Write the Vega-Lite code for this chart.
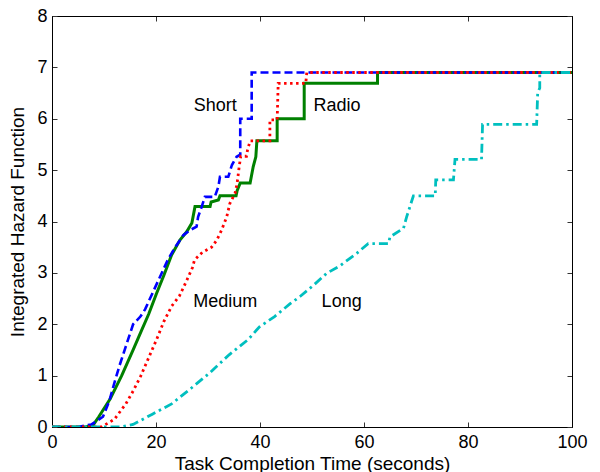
{
  "$schema": "https://vega.github.io/schema/vega-lite/v6.json",
  "width": 520,
  "height": 411,
  "autosize": "none",
  "padding": {"left": 52, "top": 16, "right": 28, "bottom": 45},
  "background": "white",
  "config": {
    "font": "Liberation Sans",
    "view": {"stroke": "black", "strokeWidth": 1},
    "axis": {
      "grid": false,
      "domainColor": "black",
      "domainWidth": 1,
      "tickColor": "#333333",
      "tickSize": -5,
      "tickWidth": 1,
      "labelFont": "Liberation Sans",
      "labelFontSize": 18,
      "labelColor": "black",
      "titleFont": "Liberation Sans",
      "titleFontSize": 19,
      "titleFontWeight": "normal",
      "titleColor": "black"
    }
  },
  "datasets": {
    "curves": [
      {"series": "Short", "i": 0, "t": 0, "h": 0},
      {"series": "Short", "i": 1, "t": 5, "h": 0},
      {"series": "Short", "i": 2, "t": 7.6, "h": 0.05},
      {"series": "Short", "i": 3, "t": 9.8, "h": 0.2},
      {"series": "Short", "i": 4, "t": 11, "h": 0.5},
      {"series": "Short", "i": 5, "t": 12, "h": 0.86},
      {"series": "Short", "i": 6, "t": 13, "h": 1.2},
      {"series": "Short", "i": 7, "t": 14.2, "h": 1.57},
      {"series": "Short", "i": 8, "t": 15.6, "h": 2.0},
      {"series": "Short", "i": 9, "t": 17, "h": 2.15},
      {"series": "Short", "i": 10, "t": 17.9, "h": 2.29},
      {"series": "Short", "i": 11, "t": 19.3, "h": 2.6},
      {"series": "Short", "i": 12, "t": 20.8, "h": 2.93},
      {"series": "Short", "i": 13, "t": 22.3, "h": 3.26},
      {"series": "Short", "i": 14, "t": 23.7, "h": 3.5},
      {"series": "Short", "i": 15, "t": 25.3, "h": 3.74},
      {"series": "Short", "i": 16, "t": 26.5, "h": 3.83},
      {"series": "Short", "i": 17, "t": 27.8, "h": 3.9},
      {"series": "Short", "i": 18, "t": 28.1, "h": 4.09},
      {"series": "Short", "i": 19, "t": 28.8, "h": 4.29},
      {"series": "Short", "i": 20, "t": 29.4, "h": 4.48},
      {"series": "Short", "i": 21, "t": 31.3, "h": 4.48},
      {"series": "Short", "i": 22, "t": 32.0, "h": 4.68},
      {"series": "Short", "i": 23, "t": 32.3, "h": 4.87},
      {"series": "Short", "i": 24, "t": 33.9, "h": 4.87},
      {"series": "Short", "i": 25, "t": 34.6, "h": 5.1},
      {"series": "Short", "i": 26, "t": 35.5, "h": 5.26},
      {"series": "Short", "i": 27, "t": 36.2, "h": 5.3},
      {"series": "Short", "i": 28, "t": 36.2, "h": 6.0},
      {"series": "Short", "i": 29, "t": 38.4, "h": 6.0},
      {"series": "Short", "i": 30, "t": 38.4, "h": 6.9},
      {"series": "Short", "i": 31, "t": 100, "h": 6.9},
      {"series": "Radio", "i": 0, "t": 0, "h": 0},
      {"series": "Radio", "i": 1, "t": 6.5, "h": 0},
      {"series": "Radio", "i": 2, "t": 8, "h": 0.05},
      {"series": "Radio", "i": 3, "t": 9, "h": 0.2},
      {"series": "Radio", "i": 4, "t": 11.2, "h": 0.55},
      {"series": "Radio", "i": 5, "t": 13.4, "h": 1.0},
      {"series": "Radio", "i": 6, "t": 15.6, "h": 1.5},
      {"series": "Radio", "i": 7, "t": 17.1, "h": 1.85},
      {"series": "Radio", "i": 8, "t": 18.6, "h": 2.2},
      {"series": "Radio", "i": 9, "t": 20.1, "h": 2.6},
      {"series": "Radio", "i": 10, "t": 21.5, "h": 2.95},
      {"series": "Radio", "i": 11, "t": 23.0, "h": 3.35},
      {"series": "Radio", "i": 12, "t": 24.6, "h": 3.64},
      {"series": "Radio", "i": 13, "t": 25.9, "h": 3.8},
      {"series": "Radio", "i": 14, "t": 26.9, "h": 3.97},
      {"series": "Radio", "i": 15, "t": 27.5, "h": 4.29},
      {"series": "Radio", "i": 16, "t": 30.4, "h": 4.29},
      {"series": "Radio", "i": 17, "t": 30.6, "h": 4.38},
      {"series": "Radio", "i": 18, "t": 32.0, "h": 4.42},
      {"series": "Radio", "i": 19, "t": 32.3, "h": 4.5},
      {"series": "Radio", "i": 20, "t": 35.4, "h": 4.5},
      {"series": "Radio", "i": 21, "t": 35.6, "h": 4.6},
      {"series": "Radio", "i": 22, "t": 36.2, "h": 4.75},
      {"series": "Radio", "i": 23, "t": 38.1, "h": 4.75},
      {"series": "Radio", "i": 24, "t": 38.7, "h": 5.07},
      {"series": "Radio", "i": 25, "t": 39.2, "h": 5.26},
      {"series": "Radio", "i": 26, "t": 39.4, "h": 5.57},
      {"series": "Radio", "i": 27, "t": 43.3, "h": 5.57},
      {"series": "Radio", "i": 28, "t": 43.3, "h": 6.0},
      {"series": "Radio", "i": 29, "t": 48.5, "h": 6.0},
      {"series": "Radio", "i": 30, "t": 48.5, "h": 6.69},
      {"series": "Radio", "i": 31, "t": 62.6, "h": 6.69},
      {"series": "Radio", "i": 32, "t": 62.6, "h": 6.9},
      {"series": "Radio", "i": 33, "t": 100, "h": 6.9},
      {"series": "Medium", "i": 0, "t": 0, "h": 0},
      {"series": "Medium", "i": 1, "t": 9.5, "h": 0},
      {"series": "Medium", "i": 2, "t": 12.0, "h": 0.15},
      {"series": "Medium", "i": 3, "t": 14.2, "h": 0.45},
      {"series": "Medium", "i": 4, "t": 15.6, "h": 0.7},
      {"series": "Medium", "i": 5, "t": 17.1, "h": 1.0},
      {"series": "Medium", "i": 6, "t": 18.6, "h": 1.35},
      {"series": "Medium", "i": 7, "t": 20.1, "h": 1.7},
      {"series": "Medium", "i": 8, "t": 21.5, "h": 2.05},
      {"series": "Medium", "i": 9, "t": 23.0, "h": 2.35},
      {"series": "Medium", "i": 10, "t": 24.5, "h": 2.55},
      {"series": "Medium", "i": 11, "t": 25.9, "h": 2.85},
      {"series": "Medium", "i": 12, "t": 27.0, "h": 3.1},
      {"series": "Medium", "i": 13, "t": 27.4, "h": 3.25},
      {"series": "Medium", "i": 14, "t": 28.9, "h": 3.4},
      {"series": "Medium", "i": 15, "t": 30.7, "h": 3.5},
      {"series": "Medium", "i": 16, "t": 31.7, "h": 3.64},
      {"series": "Medium", "i": 17, "t": 32.6, "h": 3.83},
      {"series": "Medium", "i": 18, "t": 33.6, "h": 4.09},
      {"series": "Medium", "i": 19, "t": 34.2, "h": 4.35},
      {"series": "Medium", "i": 20, "t": 35.2, "h": 4.55},
      {"series": "Medium", "i": 21, "t": 35.6, "h": 4.74},
      {"series": "Medium", "i": 22, "t": 36.0, "h": 5.07},
      {"series": "Medium", "i": 23, "t": 36.3, "h": 5.27},
      {"series": "Medium", "i": 24, "t": 37.4, "h": 5.27},
      {"series": "Medium", "i": 25, "t": 37.6, "h": 5.39},
      {"series": "Medium", "i": 26, "t": 38.1, "h": 5.57},
      {"series": "Medium", "i": 27, "t": 41.9, "h": 5.57},
      {"series": "Medium", "i": 28, "t": 41.9, "h": 5.98},
      {"series": "Medium", "i": 29, "t": 43.3, "h": 5.98},
      {"series": "Medium", "i": 30, "t": 43.5, "h": 6.69},
      {"series": "Medium", "i": 31, "t": 48.8, "h": 6.69},
      {"series": "Medium", "i": 32, "t": 49.0, "h": 6.9},
      {"series": "Medium", "i": 33, "t": 100, "h": 6.9},
      {"series": "Long", "i": 0, "t": 0, "h": 0},
      {"series": "Long", "i": 1, "t": 13, "h": 0},
      {"series": "Long", "i": 2, "t": 15.6, "h": 0.05},
      {"series": "Long", "i": 3, "t": 19.3, "h": 0.25},
      {"series": "Long", "i": 4, "t": 23.0, "h": 0.45},
      {"series": "Long", "i": 5, "t": 26.7, "h": 0.75},
      {"series": "Long", "i": 6, "t": 30.3, "h": 1.05},
      {"series": "Long", "i": 7, "t": 34.0, "h": 1.4},
      {"series": "Long", "i": 8, "t": 37.7, "h": 1.7},
      {"series": "Long", "i": 9, "t": 39.9, "h": 1.95},
      {"series": "Long", "i": 10, "t": 42.8, "h": 2.15},
      {"series": "Long", "i": 11, "t": 45.8, "h": 2.4},
      {"series": "Long", "i": 12, "t": 47.7, "h": 2.54},
      {"series": "Long", "i": 13, "t": 50.3, "h": 2.76},
      {"series": "Long", "i": 14, "t": 52.8, "h": 2.99},
      {"series": "Long", "i": 15, "t": 55.4, "h": 3.14},
      {"series": "Long", "i": 16, "t": 58.6, "h": 3.38},
      {"series": "Long", "i": 17, "t": 60.8, "h": 3.57},
      {"series": "Long", "i": 18, "t": 64.7, "h": 3.57},
      {"series": "Long", "i": 19, "t": 65.0, "h": 3.7},
      {"series": "Long", "i": 20, "t": 67.6, "h": 3.87},
      {"series": "Long", "i": 21, "t": 68.2, "h": 4.09},
      {"series": "Long", "i": 22, "t": 69.5, "h": 4.5},
      {"series": "Long", "i": 23, "t": 73.7, "h": 4.5},
      {"series": "Long", "i": 24, "t": 73.8, "h": 4.81},
      {"series": "Long", "i": 25, "t": 77.2, "h": 4.81},
      {"series": "Long", "i": 26, "t": 77.5, "h": 5.21},
      {"series": "Long", "i": 27, "t": 82.6, "h": 5.21},
      {"series": "Long", "i": 28, "t": 82.8, "h": 5.89},
      {"series": "Long", "i": 29, "t": 93.2, "h": 5.89},
      {"series": "Long", "i": 30, "t": 93.4, "h": 6.5},
      {"series": "Long", "i": 31, "t": 93.8, "h": 6.6},
      {"series": "Long", "i": 32, "t": 93.8, "h": 6.9},
      {"series": "Long", "i": 33, "t": 100, "h": 6.9}
    ],
    "labels": [
      {"label": "Short", "t": 31.4, "h": 6.25},
      {"label": "Radio", "t": 54.8, "h": 6.24},
      {"label": "Medium", "t": 33.3, "h": 2.43},
      {"label": "Long", "t": 55.7, "h": 2.43}
    ]
  },
  "resolve": {"axis": {"x": "independent", "y": "independent"}},
  "layer": [
    {
      "data": {"name": "curves"},
      "layer": [
        {
          "transform": [{"filter": "datum.series === 'Radio'"}],
          "mark": {"type": "line", "color": "#008000", "strokeWidth": 3, "clip": true},
          "encoding": {
            "x": {"field": "t", "type": "quantitative", "scale": {"domain": [0, 100], "nice": false}, "axis": {"title": "Task Completion Time (seconds)", "values": [0, 20, 40, 60, 80, 100], "labelPadding": 11, "titlePadding": 3, "labelFlush": false}},
            "y": {"field": "h", "type": "quantitative", "scale": {"domain": [0, 8], "nice": false}, "axis": {"title": "Integrated Hazard Function", "values": [0, 1, 2, 3, 4, 5, 6, 7, 8], "labelPadding": 10, "titlePadding": 9, "labelFlush": false}},
            "order": {"field": "i", "type": "quantitative"}
          }
        },
        {
          "transform": [{"filter": "datum.series === 'Short'"}],
          "mark": {"type": "line", "color": "#0000FF", "strokeWidth": 2.6, "strokeDash": [8, 4], "clip": true},
          "encoding": {
            "x": {"field": "t", "type": "quantitative", "scale": {"domain": [0, 100], "nice": false}, "axis": {"title": "Task Completion Time (seconds)", "values": [0, 20, 40, 60, 80, 100], "labelPadding": 11, "titlePadding": 3, "labelFlush": false}},
            "y": {"field": "h", "type": "quantitative", "scale": {"domain": [0, 8], "nice": false}, "axis": {"title": "Integrated Hazard Function", "values": [0, 1, 2, 3, 4, 5, 6, 7, 8], "labelPadding": 10, "titlePadding": 9, "labelFlush": false}},
            "order": {"field": "i", "type": "quantitative"}
          }
        },
        {
          "transform": [{"filter": "datum.series === 'Medium'"}],
          "mark": {"type": "line", "color": "#FF0000", "strokeWidth": 2.8, "strokeDash": [2.5, 3.5], "clip": true},
          "encoding": {
            "x": {"field": "t", "type": "quantitative", "scale": {"domain": [0, 100], "nice": false}, "axis": {"title": "Task Completion Time (seconds)", "values": [0, 20, 40, 60, 80, 100], "labelPadding": 11, "titlePadding": 3, "labelFlush": false}},
            "y": {"field": "h", "type": "quantitative", "scale": {"domain": [0, 8], "nice": false}, "axis": {"title": "Integrated Hazard Function", "values": [0, 1, 2, 3, 4, 5, 6, 7, 8], "labelPadding": 10, "titlePadding": 9, "labelFlush": false}},
            "order": {"field": "i", "type": "quantitative"}
          }
        },
        {
          "transform": [{"filter": "datum.series === 'Long'"}],
          "mark": {"type": "line", "color": "#00BFBF", "strokeWidth": 2.8, "strokeDash": [9, 4, 2.5, 4], "clip": true},
          "encoding": {
            "x": {"field": "t", "type": "quantitative", "scale": {"domain": [0, 100], "nice": false}, "axis": {"title": "Task Completion Time (seconds)", "values": [0, 20, 40, 60, 80, 100], "labelPadding": 11, "titlePadding": 3, "labelFlush": false}},
            "y": {"field": "h", "type": "quantitative", "scale": {"domain": [0, 8], "nice": false}, "axis": {"title": "Integrated Hazard Function", "values": [0, 1, 2, 3, 4, 5, 6, 7, 8], "labelPadding": 10, "titlePadding": 9, "labelFlush": false}},
            "order": {"field": "i", "type": "quantitative"}
          }
        }
      ]
    },
    {
      "data": {"name": "labels"},
      "mark": {"type": "text", "font": "Liberation Sans", "fontSize": 18, "color": "black", "align": "center", "baseline": "middle"},
      "encoding": {
        "x": {"field": "t", "type": "quantitative", "scale": {"domain": [0, 100], "nice": false}, "axis": {"orient": "top", "labels": false, "title": null, "values": [0, 20, 40, 60, 80, 100]}},
        "y": {"field": "h", "type": "quantitative", "scale": {"domain": [0, 8], "nice": false}, "axis": {"orient": "right", "labels": false, "title": null, "values": [0, 1, 2, 3, 4, 5, 6, 7, 8]}},
        "text": {"field": "label", "type": "nominal"}
      }
    }
  ]
}
